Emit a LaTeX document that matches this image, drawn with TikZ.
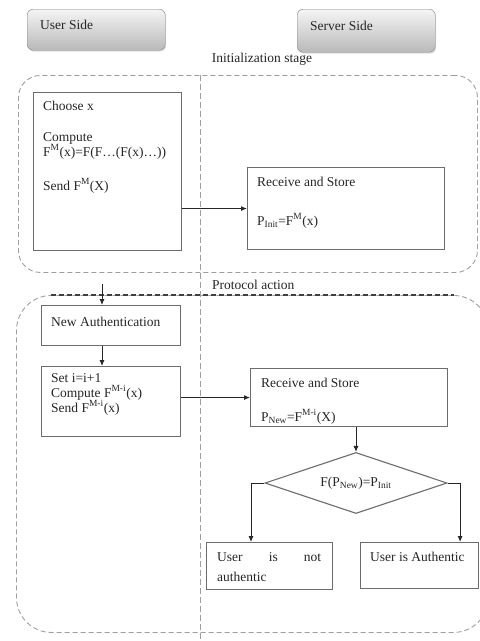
\documentclass[tikz,border=0pt]{standalone}
\usepackage{fontspec}
\setmainfont{Liberation Serif}
\usetikzlibrary{shapes.geometric,arrows.meta,shadows}
\begin{document}
\begin{tikzpicture}[x=1pt,y=-1pt,
  font=\fontsize{13.5}{15}\selectfont,
  box/.style={draw=gray!85!black, line width=1.1pt, anchor=north west, inner sep=0pt},
  head/.style={draw=gray, rounded corners=6pt, top color=gray!8, bottom color=gray!55, anchor=north west, inner sep=0pt, drop shadow={opacity=0.25,shadow xshift=1pt,shadow yshift=-1.5pt}},
  txt/.style={anchor=base west, inner sep=0pt, text=black!85},
  stage/.style={draw=gray!75, dash pattern=on 5pt off 3pt, line width=0.9pt, anchor=north west, inner sep=0pt},
  divider/.style={draw=gray!75, dash pattern=on 6pt off 3pt, line width=0.9pt},
  arr/.style={draw=gray!30!black, line width=0.9pt, -{Latex[length=6pt,width=5pt]}},
]
\fill[white] (0,0) rectangle (480,641);
\useasboundingbox (0,0) rectangle (480,641);

% headers
\node[head, minimum width=138pt, minimum height=41pt] (us) at (27,9) {};
\node[txt] (ust) at (40,29) {User Side};
\node[head, minimum width=138pt, minimum height=43pt] (ss) at (297,9) {};
\node[txt] (sst) at (310,30) {Server Side};
\node[anchor=base, inner sep=0pt, text=black!85] (init) at (262,62) {Initialization stage};

% stage frames
\node[stage, rounded corners=22pt, minimum width=459pt, minimum height=197pt] (s1) at (18,75) {};
\node[stage, rounded corners=35pt, minimum width=472pt, minimum height=337pt] (s2) at (16,295) {};
\draw[black!75, dash pattern=on 5pt off 3pt, line width=1.1pt] ([xshift=35pt]s2.north west) -- ([xshift=-35pt]s2.north east);
\coordinate (d0) at (200,75);
\coordinate (d1) at (200,641);
\draw[divider] (d0) -- (d1);
\node[txt] (prot) at (212,289) {Protocol action};

% initialization stage
\node[box, minimum width=148pt, minimum height=158pt] (choose) at (33,92) {};
\node[txt] (t1) at (43,110) {Choose x};
\node[txt] (t2) at (43,141) {Compute};
\node[txt] (t3) at (43,156) {F\textsuperscript{M}(x)=F(F\ldots(F(x)\ldots))};
\node[txt] (t4) at (43,190) {Send F\textsuperscript{M}(X)};

\node[box, minimum width=197pt, minimum height=82pt] (recv1) at (247,167) {};
\node[txt] (t5) at (257,186) {Receive and Store};
\node[txt] (t6) at (257,225) {P\textsubscript{Init}=F\textsuperscript{M}(x)};
\draw[arr] (choose.east |- recv1.west) -- (recv1.west);

% protocol action
\coordinate (a0) at (102,284);
\node[box, minimum width=139pt, minimum height=40pt] (newauth) at (41,305) {};
\node[txt] (t7) at (51,326) {New Authentication};
\node[box, minimum width=139pt, minimum height=70pt] (setb) at (41,366) {};
\node[txt] (t8) at (51,382) {Set i=i+1};
\node[txt] (t9) at (51,397) {Compute F\textsuperscript{M-i}(x)};
\node[txt] (t10) at (51,412) {Send F\textsuperscript{M-i}(x)};
\draw[arr] (a0) -- (a0 |- newauth.north);
\draw[arr] (a0 |- newauth.south) -- (a0 |- setb.north);

\node[box, minimum width=197pt, minimum height=58pt] (recv2) at (250,368) {};
\node[txt] (t11) at (261,387) {Receive and Store};
\node[txt] (t12) at (261,421) {P\textsubscript{New}=F\textsuperscript{M-i}(X)};
\draw[arr] (setb.east |- recv2.west) -- (recv2.west);

\node[diamond, draw=gray!85!black, line width=1.1pt, minimum width=182pt, minimum height=61pt, inner sep=0pt, aspect=3, text=black!85] (dec) at (356,483) {F(P\textsubscript{New})=P\textsubscript{Init}};
\draw[arr] (dec.north |- recv2.south) -- (dec.north);

\node[box, minimum width=126pt, minimum height=47pt] (notauth) at (206,542) {};
\node[txt] (t13) at (217,561) {\makebox[104pt][s]{User\hfil is\hfil not}};
\node[txt] (t14) at (217,581) {authentic};
\node[box, minimum width=118pt, minimum height=46pt] (auth) at (360,542) {};
\node[txt] (t15) at (370,561) {User is Authentic};
\draw[arr] (dec.west) -| ([xshift=45pt]notauth.north west);
\draw[arr] (dec.east) -| ([xshift=-19pt]auth.north east);
\end{tikzpicture}
\end{document}
